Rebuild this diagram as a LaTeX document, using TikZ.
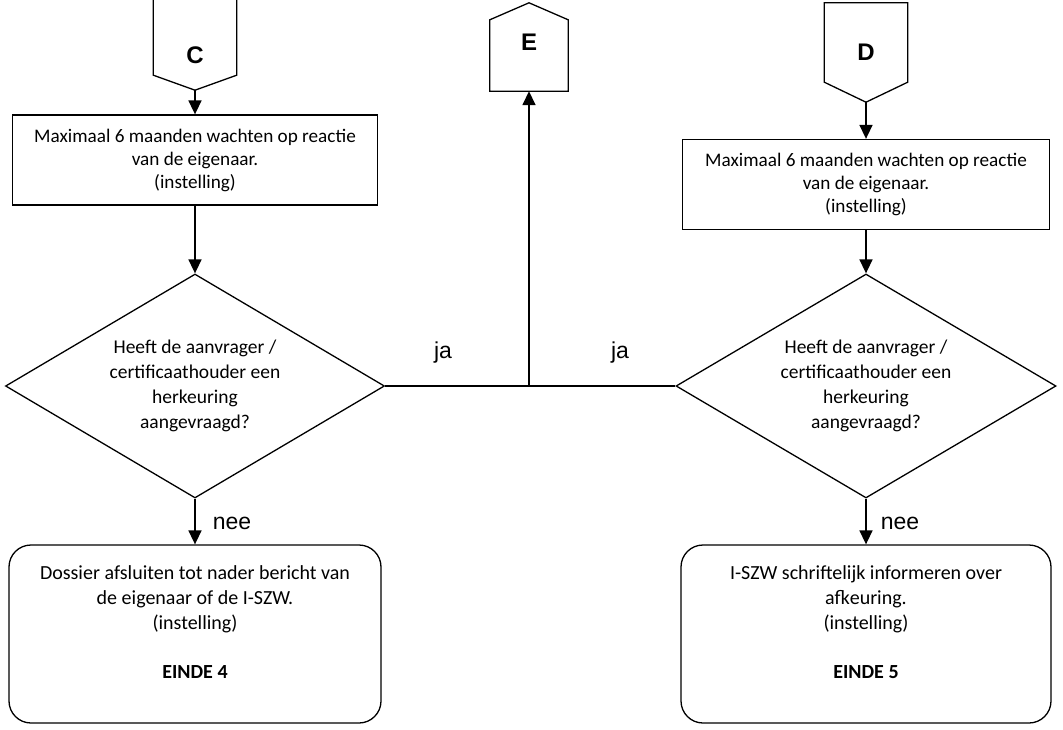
\documentclass[tikz,border=0pt]{standalone}
\usepackage{fontspec}
\setmainfont{Carlito}
\newfontfamily\arialfont{Liberation Sans}
\usetikzlibrary{positioning, arrows.meta, shapes.geometric}

\tikzset{
  base/.style={draw, line width=1.3pt, align=center,
               font=\fontsize{20}{25}\selectfont},
  taskbox/.style={base, rectangle, minimum width=365pt, minimum height=90pt,
                  font=\fontsize{19.2}{23}\selectfont},
  endbox/.style={base, rectangle, rounded corners=22pt,
                 minimum width=372pt, minimum height=178pt},
  question/.style={base, diamond, aspect=1.7, inner sep=0pt,
                   font=\fontsize{19.5}{25}\selectfont,
                   minimum width=379pt, minimum height=224pt},
  pageref/.style={inner sep=0pt, minimum width=83pt,
                  font=\arialfont\bfseries\fontsize{24}{28}\selectfont},
  outline/.style={line width=1.3pt, line join=miter},
  flow/.style={line width=1.6pt, -{Triangle[length=14pt,width=13pt]}},
  tag/.style={font=\arialfont\fontsize{23}{26}\selectfont}
}

\begin{document}
\begin{tikzpicture}[x=1pt, y=-1pt]
  \useasboundingbox (0,0) rectangle (1063,730);

  % left branch
  \node[pageref, minimum height=93pt, text height=40pt] (C) at (195,43.5) {C};
  \draw[outline] (C.north west) -- (C.north east) -- ([yshift=15pt]C.south east)
    -- (C.south) -- ([yshift=15pt]C.south west) -- cycle;
  \node[taskbox] (wait1) at (195,160)
    {Maximaal 6 maanden wachten op reactie\\ van de eigenaar.\\ (instelling)};
  \node[question] (check1) at (195,386)
    {Heeft de aanvrager /\\ certificaathouder een\\ herkeuring\\ aangevraagd?};
  \node[endbox] (end1) at (195,634)
    {Dossier afsluiten tot nader bericht van\\ de eigenaar of de I-SZW.\\ (instelling)\\[24pt]
     \textbf{EINDE 4}\\[-2pt]\mbox{}};

  % right branch
  \node[pageref, minimum height=99pt] (D) at (866,52.5) {D};
  \draw[outline] (D.north west) -- (D.north east) -- ([yshift=20pt]D.south east)
    -- (D.south) -- ([yshift=20pt]D.south west) -- cycle;
  \node[taskbox, minimum width=367pt] (wait2) at (866,184.5)
    {Maximaal 6 maanden wachten op reactie\\ van de eigenaar.\\ (instelling)};
  \node[question, minimum width=380pt] (check2) at (866,386)
    {Heeft de aanvrager /\\ certificaathouder een\\ herkeuring\\ aangevraagd?};
  \node[endbox, minimum width=370pt] (end2) at (866,634)
    {I-SZW schriftelijk informeren over\\ afkeuring.\\ (instelling)\\[24pt]
     \textbf{EINDE 5}\\[-2pt]\mbox{}};

  % exit E
  \node[pageref, minimum width=78pt, minimum height=88pt, text depth=10pt] (E) at (529,47) {E};
  \draw[outline] (E.north) -- ([yshift=-17pt]E.north east) -- (E.south east)
    -- (E.south west) -- ([yshift=-17pt]E.north west) -- cycle;
  \coordinate (join) at (E.south |- check1.east);

  \draw[flow] (C.south) -- (wait1.north);
  \draw[flow] (wait1.south) -- (check1.north);
  \draw[flow] (check1.south) -- (end1.north);
  \draw[flow] (D.south) -- (wait2.north);
  \draw[flow] (wait2.south) -- (check2.north);
  \draw[flow] (check2.south) -- (end2.north);
  \draw[line width=1.6pt] (check1.east) -- (check2.west);
  \draw[flow] (join) -- (E.south);

  \node[tag] (ja1) at (443,353) {ja};
  \node[tag] (ja2) at (620,353) {ja};
  \node[tag] (nee1) at (232,523) {nee};
  \node[tag] (nee2) at (900,523) {nee};
\end{tikzpicture}
\end{document}
